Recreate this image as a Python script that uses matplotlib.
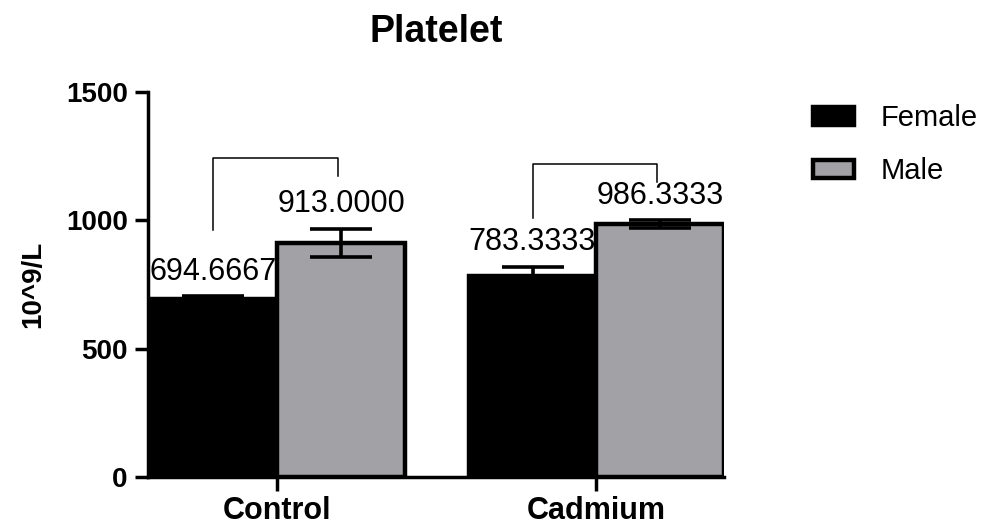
import numpy as np
import matplotlib
matplotlib.use('Agg')
import matplotlib.pyplot as plt

plt.rcParams['font.family'] = ['Liberation Sans', 'DejaVu Sans']

groups = ['Control', 'Cadmium']
series = ['Female', 'Male']
female_mean = [694.6667, 783.3333]
male_mean = [913.0000, 986.3333]
female_err = [10, 36]
male_err = [54, 15]
colors = ['#000000', '#a2a1a6']

# bracket heights: top, left leg end, right leg end
bracket_top = [1241, 1218]
bracket_left = [962, 1008]
bracket_right = [1172, 1150]

yticks = [0, 500, 1000, 1500]

fig = plt.figure(figsize=(9.89, 5.29), dpi=100)
ax = fig.add_axes([148 / 989, 1 - 477 / 529, 576 / 989, 385 / 529])

x = np.arange(len(groups))
w = 0.4
offsets = [-w / 2, w / 2]
means = [female_mean, male_mean]
errs = [female_err, male_err]

for i in range(2):
    xs = x + offsets[i]
    ax.bar(xs, means[i], width=w, color=colors[i], edgecolor='black',
           linewidth=3.2, label=series[i], zorder=2)
    ax.errorbar(xs, means[i], yerr=errs[i], fmt='none', ecolor='black',
                elinewidth=2.6, capsize=22, capthick=2.6, zorder=3)
    for xi, m, e in zip(xs, means[i], errs[i]):
        ax.text(xi, m + e + 95, f'{m:.4f}', ha='center', va='center',
                fontsize=22, zorder=4)

for j in range(len(groups)):
    xl = x[j] + offsets[0]
    xr = x[j] + offsets[1] - 0.01
    ax.plot([xl, xl, xr, xr],
            [bracket_left[j], bracket_top[j], bracket_top[j], bracket_right[j]],
            color='black', lw=1.1, zorder=4)

ax.set_xlim(-0.405, 1.40)
ax.set_ylim(0, 1500)
ax.set_yticks(yticks)
ax.set_xticks(x)
ax.set_xticklabels(groups, fontsize=22, fontweight='bold')
ax.set_yticklabels([str(t) for t in yticks], fontsize=20, fontweight='bold')
ax.tick_params(axis='y', length=9.5, width=2.5, pad=5)
ax.tick_params(axis='x', length=10, width=2.5, pad=4)

for s in ['top', 'right']:
    ax.spines[s].set_visible(False)
for s in ['left', 'bottom']:
    ax.spines[s].set_linewidth(2.5)

ax.set_ylabel('10^9/L', fontsize=20, fontweight='bold', labelpad=14)
ax.set_title('Platelet', fontsize=27, fontweight='bold', pad=36)

ax.legend(loc='upper left', bbox_to_anchor=(787 / 989, 1 - 78 / 529),
          bbox_transform=fig.transFigure, frameon=False, fontsize=21,
          handlelength=1.38, handleheight=0.55, labelspacing=0.85,
          handletextpad=0.93)

fig.savefig('out.png', dpi=100)
